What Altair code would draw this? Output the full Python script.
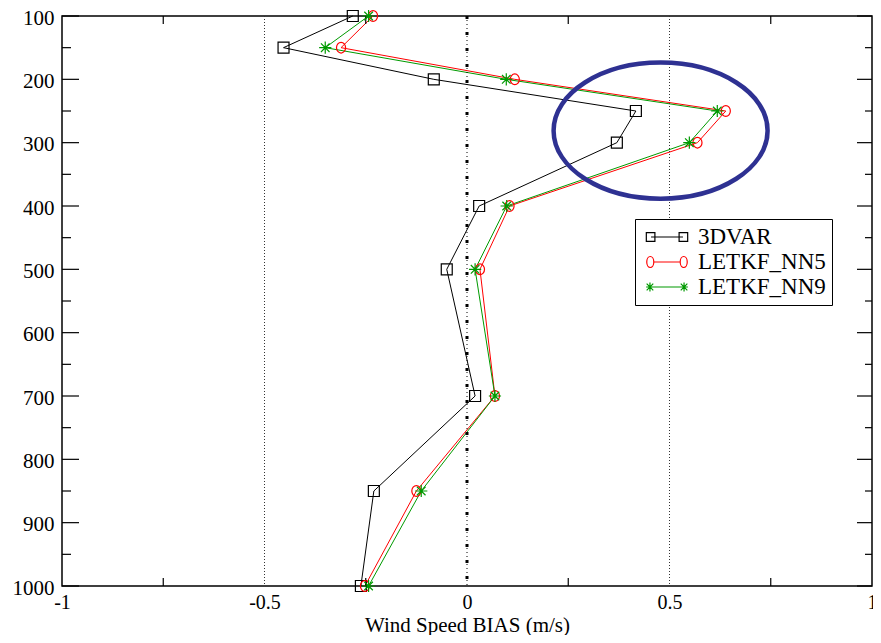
import altair as alt
import pandas as pd

# ---------------- data ----------------
pressure = [100, 150, 200, 250, 300, 400, 500, 700, 850, 1000]
bias_3dvar = [-0.282, -0.453, -0.082, 0.417, 0.370, 0.030, -0.050, 0.020, -0.230, -0.262]
bias_nn5 = [-0.232, -0.311, 0.118, 0.639, 0.569, 0.105, 0.032, 0.069, -0.125, -0.252]
bias_nn9 = [-0.243, -0.350, 0.097, 0.618, 0.549, 0.098, 0.020, 0.069, -0.113, -0.243]

series_names = ["3DVAR", "LETKF_NN5", "LETKF_NN9"]
series_colors = ["#000000", "#ff0000", "#009a00"]

x_tick_values = [-1, -0.5, 0, 0.5, 1]
x_minor_ticks = [-0.75, -0.25, 0.25, 0.75]
y_major_ticks = [100, 200, 300, 400, 500, 600, 700, 800, 900, 1000]
y_minor_ticks = [150, 250, 350, 450, 550, 650, 750, 850, 950]
ref_lines = [-0.5, 0.5]
zero_line = [0]
highlight_bias = [0.478]
highlight_pressure = [281]

rows = []
for name, vals in zip(series_names, [bias_3dvar, bias_nn5, bias_nn9]):
    for p, v in zip(pressure, vals):
        rows.append({"series": name, "pressure": p, "bias": v})
df = pd.DataFrame(rows)

W, H = 810, 570
FONT = "Liberation Serif, Times New Roman, serif"

xscale = alt.Scale(domain=[-1, 1], nice=False, zero=False)
yscale = alt.Scale(domain=[100, 1000], reverse=True, nice=False, zero=False)
cscale = alt.Scale(domain=series_names, range=series_colors)

x_axis = alt.Axis(
    values=x_tick_values, title="Wind Speed BIAS (m/s)", ticks=False, tickSize=0,
    domain=False, grid=False, labelFont=FONT, labelFontSize=20, labelColor="black",
    labelPadding=6, labelFlush=False, labelOverlap=False,
    labelExpr="(datum.value < 0 ? '-' : '') + format(abs(datum.value), '~g')",
    titleFont=FONT, titleFontSize=21, titleFontWeight="normal", titleColor="black",
    titleBaseline="alphabetic", titleY=45,
)
y_axis = alt.Axis(
    values=y_major_ticks, title=None, ticks=False, tickSize=0, domain=False, grid=False,
    labelFont=FONT, labelFontSize=21, labelColor="black", labelPadding=8, labelOffset=2,
    labelFlush=False, labelOverlap=False, format="d",
)


def X(field):
    return alt.X(field, scale=xscale, axis=x_axis)


def Y(field):
    return alt.Y(field, scale=yscale, axis=y_axis)


# reference dotted lines
ref = alt.Chart(pd.DataFrame({"bias": ref_lines})).mark_rule(
    color="#333333", strokeWidth=1, strokeDash=[1, 2]
).encode(x=X("bias:Q"))

zero_thin = alt.Chart(pd.DataFrame({"bias": zero_line})).mark_rule(
    color="black", strokeWidth=1, strokeDash=[1, 3]
).encode(x=X("bias:Q"))
zero_thick = alt.Chart(pd.DataFrame({"bias": zero_line})).mark_rule(
    color="black", strokeWidth=3, strokeDash=[3, 13]
).encode(x=X("bias:Q"))


# inward tick marks
def yticks(vals, x0, x1):
    return alt.Chart(pd.DataFrame({"pressure": vals})).mark_rule(color="black", strokeWidth=1.2).encode(
        y=Y("pressure:Q"), x=alt.value(x0), x2=alt.value(x1)
    )


def xticks(vals, y0, y1):
    return alt.Chart(pd.DataFrame({"bias": vals})).mark_rule(color="black", strokeWidth=1.2).encode(
        x=X("bias:Q"), y=alt.value(y0), y2=alt.value(y1)
    )


tick_layers = [
    yticks(y_major_ticks, 0, 17), yticks(y_minor_ticks, 0, 9),
    yticks(y_major_ticks, W, W - 15), yticks(y_minor_ticks, W, W - 7),
    xticks(x_minor_ticks, 0, 8), xticks(x_minor_ticks, H, H - 8),
]

# series lines
lines = alt.Chart(df).mark_line(strokeWidth=1).encode(
    x=X("bias:Q"),
    y=Y("pressure:Q"),
    color=alt.Color("series:N", scale=cscale, legend=None),
    order=alt.Order("pressure:Q"),
)

CIRCLE = "M -0.85 0 A 0.85 1 0 1 1 0.85 0 A 0.85 1 0 1 1 -0.85 0 Z"
STAR = "M -1 0 L 1 0 M 0 -1 L 0 1 M -0.7 -0.7 L 0.7 0.7 M -0.7 0.7 L 0.7 -0.7"


def points(name, shape, size, sw):
    return alt.Chart(df).transform_filter(alt.datum.series == name).mark_point(
        shape=shape, size=size, filled=False, opacity=1, strokeWidth=sw
    ).encode(
        x=X("bias:Q"),
        y=Y("pressure:Q"),
        color=alt.Color("series:N", scale=cscale, legend=None),
    )


pts = [
    points("3DVAR", "square", 120, 1.2),
    points("LETKF_NN5", CIRCLE, 115, 1.2),
    points("LETKF_NN9", STAR, 150, 1.2),
]

# highlight ellipse
ELLIPSE = "M -1 0 A 1 0.636 0 1 1 1 0 A 1 0.636 0 1 1 -1 0 Z"
ellipse = alt.Chart(
    pd.DataFrame({"bias": highlight_bias, "pressure": highlight_pressure})
).mark_point(
    shape=ELLIPSE, size=45796, filled=False, opacity=1, color="#2e3192", strokeWidth=4.5
).encode(x=X("bias:Q"), y=Y("pressure:Q"))

# legend symbols: a line with a marker at both ends (unit = 11 px)
LEG_SQ = ("M -1.45 0 L 1.45 0 "
          "M -1.88 -0.39 L -1.1 -0.39 L -1.1 0.39 L -1.88 0.39 Z "
          "M 1.1 -0.39 L 1.88 -0.39 L 1.88 0.39 L 1.1 0.39 Z")
LEG_CI = ("M -1.2 0 L 1.2 0 "
          "M -1.84 0 A 0.32 0.5 0 1 1 -1.2 0 A 0.32 0.5 0 1 1 -1.84 0 Z "
          "M 1.2 0 A 0.32 0.5 0 1 1 1.84 0 A 0.32 0.5 0 1 1 1.2 0 Z")
LEG_ST = ("M -1.9 0 L 1.9 0 "
          "M -1.55 -0.42 L -1.55 0.42 M -1.85 -0.3 L -1.25 0.3 M -1.85 0.3 L -1.25 -0.3 "
          "M 1.55 -0.42 L 1.55 0.42 M 1.25 -0.3 L 1.85 0.3 M 1.25 0.3 L 1.85 -0.3")

leg = alt.Legend(
    title=None, orient="none", legendX=573, legendY=203, padding=6,
    strokeColor="black", fillColor="white", cornerRadius=0,
    symbolSize=484, symbolOffset=14, symbolStrokeWidth=1.2,
    labelFont=FONT, labelFontSize=23, labelColor="black", labelOffset=19,
    rowPadding=1,
)
legend_layer = alt.Chart(df).transform_filter("false").mark_point(
    filled=False, opacity=1
).encode(
    x=X("bias:Q"),
    y=Y("pressure:Q"),
    color=alt.Color("series:N", scale=cscale, legend=leg),
    shape=alt.Shape("series:N", scale=alt.Scale(domain=series_names, range=[LEG_SQ, LEG_CI, LEG_ST]), legend=leg),
)

main = alt.layer(
    lines, ref, zero_thin, zero_thick, *tick_layers, *pts, ellipse
)

chart = alt.layer(main, legend_layer).resolve_scale(
    color="independent", shape="independent"
).properties(
    width=W, height=H,
    padding={"left": 54, "top": 8, "right": 1, "bottom": 49},
    autosize=alt.AutoSizeParams(type="none"),
    background="white",
).configure_view(stroke="black", strokeWidth=1.5)

chart.save("out.html", embed_options={"renderer": "svg", "actions": False})
